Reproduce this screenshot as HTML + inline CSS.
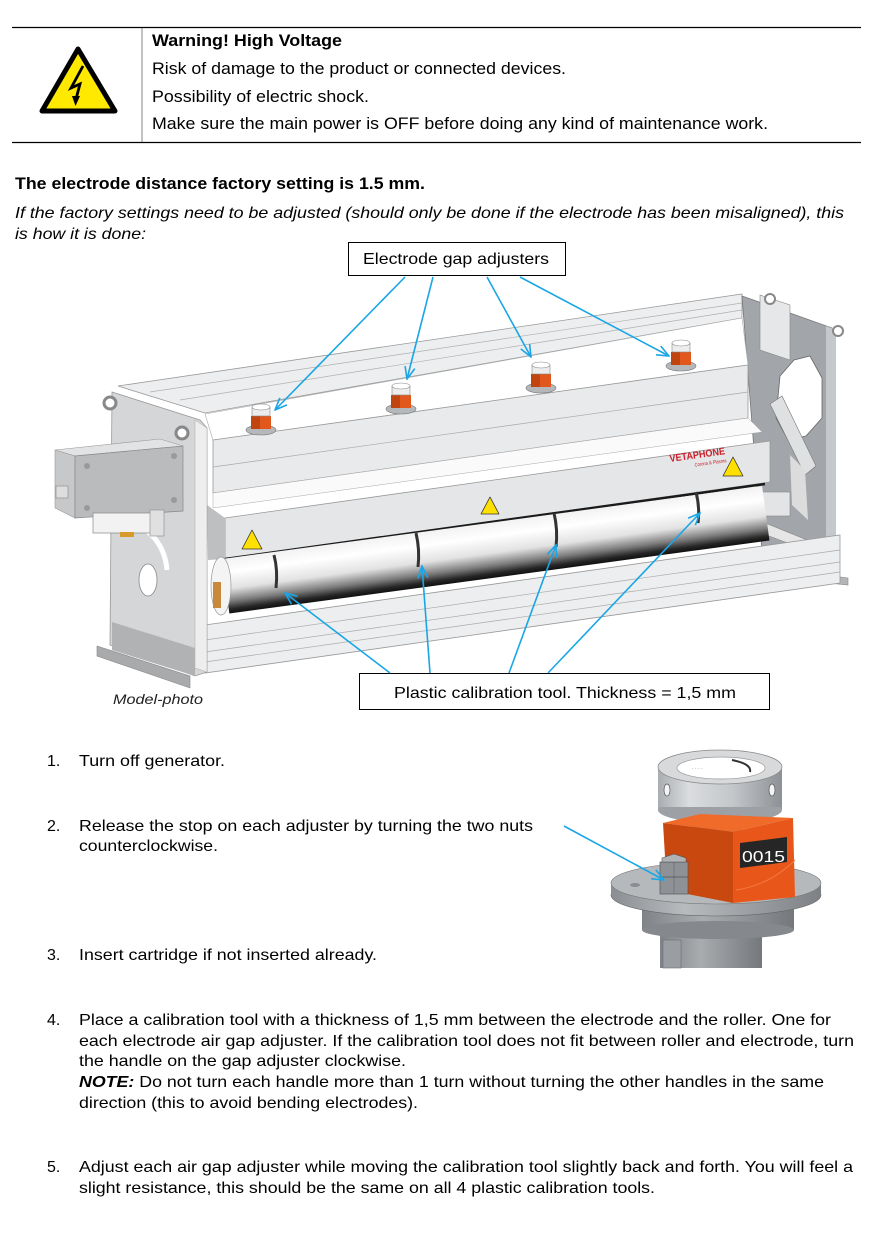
<!DOCTYPE html>
<html>
<head>
<meta charset="utf-8">
<style>
  html,body{margin:0;padding:0;background:#fff;}
  svg{display:block;}
  text{font-family:"Liberation Sans", Arial, sans-serif;fill:#000;}
</style>
</head>
<body>
<svg width="888" height="1252" viewBox="0 0 888 1252" xmlns="http://www.w3.org/2000/svg">
  <defs>
    <marker id="ah" viewBox="0 0 14 12" refX="13" refY="6" markerWidth="14" markerHeight="12" markerUnits="userSpaceOnUse" orient="auto">
      <path d="M1,1 L13,6 L1,11" fill="none" stroke="#1aa6e6" stroke-width="1.6"/>
    </marker>
    <linearGradient id="rollG" x1="0" y1="0" x2="0" y2="1">
      <stop offset="0" stop-color="#f2f2f2"/>
      <stop offset="0.25" stop-color="#ffffff"/>
      <stop offset="0.55" stop-color="#e2e2e2"/>
      <stop offset="0.78" stop-color="#7a7a7a"/>
      <stop offset="0.92" stop-color="#262626"/>
      <stop offset="1" stop-color="#101010"/>
    </linearGradient>
    <linearGradient id="capG" x1="0" y1="0" x2="1" y2="0">
      <stop offset="0" stop-color="#a9adb1"/>
      <stop offset="0.25" stop-color="#dadcde"/>
      <stop offset="0.6" stop-color="#c4c7ca"/>
      <stop offset="1" stop-color="#8d9195"/>
    </linearGradient>
    <linearGradient id="flG" x1="0" y1="0" x2="1" y2="0">
      <stop offset="0" stop-color="#8a8e92"/>
      <stop offset="0.35" stop-color="#b8bbbe"/>
      <stop offset="1" stop-color="#7d8185"/>
    </linearGradient>
    <linearGradient id="shG" x1="0" y1="0" x2="1" y2="0">
      <stop offset="0" stop-color="#7f8387"/>
      <stop offset="0.4" stop-color="#a9acaf"/>
      <stop offset="1" stop-color="#74787c"/>
    </linearGradient>
  </defs>

  <!-- ===== Warning table ===== -->
  <line x1="12" y1="27.5" x2="861" y2="27.5" stroke="#000" stroke-width="1.2"/>
  <line x1="12" y1="142.5" x2="861" y2="142.5" stroke="#000" stroke-width="1.2"/>
  <line x1="142" y1="28" x2="142" y2="142" stroke="#666" stroke-width="0.8"/>
  <polygon points="78,49 42,111 115,111" fill="#ffe900" stroke="#000" stroke-width="5" stroke-linejoin="round"/>
  <path d="M83,66 L71,88 L80,84 L76,99" fill="none" stroke="#000" stroke-width="2.8" stroke-linejoin="miter"/>
  <polygon points="72,96 75.5,106 80,96" fill="#000"/>

  <text x="152" y="46" font-size="16.5" font-weight="bold" textLength="190" lengthAdjust="spacingAndGlyphs">Warning! High Voltage</text>
  <text x="152" y="74" font-size="16.5" textLength="414" lengthAdjust="spacingAndGlyphs">Risk of damage to the product or connected devices.</text>
  <text x="152" y="102" font-size="16.5" textLength="217" lengthAdjust="spacingAndGlyphs">Possibility of electric shock.</text>
  <text x="152" y="129" font-size="16.5" textLength="616" lengthAdjust="spacingAndGlyphs">Make sure the main power is OFF before doing any kind of maintenance work.</text>

  <!-- ===== Heading ===== -->
  <text x="15" y="189" font-size="16.5" font-weight="bold" textLength="410" lengthAdjust="spacingAndGlyphs">The electrode distance factory setting is 1.5 mm.</text>
  <text x="15" y="218" font-size="16" font-style="italic" textLength="829" lengthAdjust="spacingAndGlyphs">If the factory settings need to be adjusted (should only be done if the electrode has been misaligned), this</text>
  <text x="15" y="239" font-size="16" font-style="italic" textLength="131" lengthAdjust="spacingAndGlyphs">is how it is done:</text>

  <!-- ===== Machine drawing ===== -->
  <!-- top back rail -->
  <polygon points="118,386 742,294 742,318 205,413" fill="#eceeef" stroke="#9a9a9a" stroke-width="0.8"/>
  <line x1="150" y1="392" x2="742" y2="303" stroke="#b0b0b0" stroke-width="0.7"/>
  <line x1="180" y1="400" x2="742" y2="310" stroke="#b0b0b0" stroke-width="0.7"/>

  <!-- right end plate -->
  <polygon points="742,296 832,328 836,578 762,552" fill="#a2a6aa" stroke="#777" stroke-width="0.8"/>
  <polygon points="826,326 836,330 836,578 826,575" fill="#c6c9cc"/>
  <polygon points="780,376 794,360 810,356 822,378 822,418 806,436 788,440 776,418" fill="#fff" stroke="#666" stroke-width="0.8"/>
  <polygon points="770,404 782,396 816,466 805,475" fill="#dfe0e2" stroke="#777" stroke-width="0.6"/>
  <polygon points="760,295 790,305 790,360 760,350" fill="#e6e7e8" stroke="#888" stroke-width="0.6"/>
  <polygon points="790,455 805,470 808,520 792,505" fill="#dcdcdc"/>
  <rect x="762" y="492" width="28" height="24" fill="#e3e4e5" stroke="#888" stroke-width="0.6"/>
  <polygon points="758,520 812,542 812,552 758,532" fill="#e6e6e6" stroke="#888" stroke-width="0.6"/>
  <polygon points="818,574 848,578 848,585 818,582" fill="#b4b6b8" stroke="#888" stroke-width="0.6"/>
  <circle cx="770" cy="299" r="5" fill="#fff" stroke="#888" stroke-width="2"/>
  <circle cx="838" cy="331" r="5" fill="#fff" stroke="#888" stroke-width="2"/>

  <!-- housing top face -->
  <polygon points="205,414 742,318 748,365 213,440" fill="#ffffff" stroke="#aaa" stroke-width="0.6"/>
  <!-- housing front upper -->
  <polygon points="213,440 748,365 748,418 213,493" fill="#e8eaeb" stroke="#999" stroke-width="0.8"/>
  <line x1="213" y1="467" x2="748" y2="392" stroke="#aaa" stroke-width="0.7"/>
  <polygon points="213,493 748,418 762,432 213,508" fill="#fafafa" stroke="#aaa" stroke-width="0.5"/>
  <!-- lower box -->
  <polygon points="225,518 770,441 770,482 225,559" fill="#e4e6e7" stroke="#999" stroke-width="0.8"/>
  <polygon points="207,505 225,518 225,559 208,560" fill="#bdbfc1"/>
  <line x1="225" y1="559" x2="765" y2="484" stroke="#1a1a1a" stroke-width="2.5"/>

  <!-- roller -->
  <g transform="translate(222,559) rotate(-7.7)">
    <rect x="0" y="0" width="545" height="55" fill="url(#rollG)"/>
  </g>
  <ellipse cx="221" cy="586" rx="10" ry="29" fill="#f4f4f4" stroke="#999" stroke-width="0.7"/>
  <rect x="213" y="582" width="8" height="26" fill="#c88a3a"/>
  <!-- calibration tools -->
  <path d="M274,555 Q278,570 276,588" fill="none" stroke="#333" stroke-width="3"/>
  <path d="M416,533 Q420,550 418,567" fill="none" stroke="#333" stroke-width="3"/>
  <path d="M554,513 Q558,530 556,547" fill="none" stroke="#333" stroke-width="3"/>
  <path d="M696,492 Q700,508 698,523" fill="none" stroke="#333" stroke-width="3"/>

  <!-- bottom rail -->
  <polygon points="205,625 840,535 840,583 205,673" fill="#eceeef" stroke="#999" stroke-width="0.8"/>
  <line x1="205" y1="640" x2="840" y2="550" stroke="#aaa" stroke-width="0.7"/>
  <line x1="205" y1="652" x2="840" y2="562" stroke="#aaa" stroke-width="0.7"/>
  <line x1="205" y1="662" x2="840" y2="572" stroke="#aaa" stroke-width="0.7"/>

  <!-- left end plate -->
  <polygon points="112,392 200,420 207,428 207,672 195,676 110,645" fill="#d4d6d8" stroke="#999" stroke-width="0.8"/>
  <polygon points="195,420 207,428 207,672 195,668" fill="#eeeeee" stroke="#aaa" stroke-width="0.5"/>
  <polygon points="112,622 195,648 195,676 112,650" fill="#b0b2b4"/>
  <polygon points="97,646 190,676 190,688 97,656" fill="#a8aaac" stroke="#888" stroke-width="0.6"/>
  <circle cx="110" cy="403" r="6" fill="#fff" stroke="#888" stroke-width="3"/>
  <circle cx="182" cy="433" r="6" fill="#fff" stroke="#888" stroke-width="3"/>
  <ellipse cx="148" cy="580" rx="9" ry="16" fill="#fff" stroke="#888" stroke-width="0.8"/>
  <path d="M146,530 Q165,545 167,570" fill="none" stroke="#fff" stroke-width="5"/>

  <!-- electronics box -->
  <polygon points="55,450 160,439 183,446 75,456" fill="#e2e3e4" stroke="#999" stroke-width="0.6"/>
  <polygon points="55,450 75,456 75,518 55,508" fill="#c6c8ca" stroke="#999" stroke-width="0.6"/>
  <polygon points="75,456 183,446 183,511 75,518" fill="#b9bbbd" stroke="#888" stroke-width="0.7"/>
  <circle cx="87" cy="466" r="3" fill="#999"/>
  <circle cx="174" cy="456" r="3" fill="#999"/>
  <circle cx="87" cy="508" r="3" fill="#999"/>
  <circle cx="174" cy="500" r="3" fill="#999"/>
  <rect x="56" y="486" width="12" height="12" fill="#ddd" stroke="#888" stroke-width="0.6"/>
  <rect x="93" y="513" width="68" height="20" fill="#f2f2f2" stroke="#888" stroke-width="0.7"/>
  <rect x="150" y="510" width="14" height="26" fill="#e0e0e0" stroke="#888" stroke-width="0.6"/>
  <rect x="120" y="532" width="14" height="5" fill="#d89a2a"/>

  <!-- adjusters -->
  <g>
    <ellipse cx="261" cy="430" rx="15" ry="5" fill="#b5b8bb" stroke="#777" stroke-width="0.6"/>
    <rect x="251" y="416" width="20" height="13" fill="#e2571b"/>
    <rect x="251" y="416" width="9" height="13" fill="#c04510"/>
    <rect x="252" y="407" width="18" height="9" fill="#ececec" stroke="#888" stroke-width="0.6"/>
    <ellipse cx="261" cy="407" rx="9" ry="3" fill="#fff" stroke="#888" stroke-width="0.6"/>
  </g>
  <g>
    <ellipse cx="401" cy="409" rx="15" ry="5" fill="#b5b8bb" stroke="#777" stroke-width="0.6"/>
    <rect x="391" y="395" width="20" height="13" fill="#e2571b"/>
    <rect x="391" y="395" width="9" height="13" fill="#c04510"/>
    <rect x="392" y="386" width="18" height="9" fill="#ececec" stroke="#888" stroke-width="0.6"/>
    <ellipse cx="401" cy="386" rx="9" ry="3" fill="#fff" stroke="#888" stroke-width="0.6"/>
  </g>
  <g>
    <ellipse cx="541" cy="388" rx="15" ry="5" fill="#b5b8bb" stroke="#777" stroke-width="0.6"/>
    <rect x="531" y="374" width="20" height="13" fill="#e2571b"/>
    <rect x="531" y="374" width="9" height="13" fill="#c04510"/>
    <rect x="532" y="365" width="18" height="9" fill="#ececec" stroke="#888" stroke-width="0.6"/>
    <ellipse cx="541" cy="365" rx="9" ry="3" fill="#fff" stroke="#888" stroke-width="0.6"/>
  </g>
  <g>
    <ellipse cx="681" cy="366" rx="15" ry="5" fill="#b5b8bb" stroke="#777" stroke-width="0.6"/>
    <rect x="671" y="352" width="20" height="13" fill="#e2571b"/>
    <rect x="671" y="352" width="9" height="13" fill="#c04510"/>
    <rect x="672" y="343" width="18" height="9" fill="#ececec" stroke="#888" stroke-width="0.6"/>
    <ellipse cx="681" cy="343" rx="9" ry="3" fill="#fff" stroke="#888" stroke-width="0.6"/>
  </g>

  <!-- warning labels on machine -->
  <polygon points="252,530 242,549 262,549" fill="#ffe000" stroke="#333" stroke-width="0.8" stroke-linejoin="round"/>
  <polygon points="490,497 481,514 499,514" fill="#ffe000" stroke="#333" stroke-width="0.8" stroke-linejoin="round"/>
  <polygon points="733,457 723,476 743,476" fill="#ffe000" stroke="#333" stroke-width="0.8" stroke-linejoin="round"/>

  <!-- logo -->
  <g transform="translate(670,462) rotate(-8)">
    <text x="0" y="0" font-size="10" font-weight="bold" style="fill:#c8202a" textLength="56" lengthAdjust="spacingAndGlyphs">VETAPHONE</text>
    <text x="24" y="8" font-size="5" style="fill:#c8202a" textLength="32" lengthAdjust="spacingAndGlyphs">Corona &amp; Plasma</text>
  </g>

  <!-- labels boxes -->
  <rect x="348.5" y="242.5" width="217" height="33" fill="#fff" stroke="#000" stroke-width="1"/>
  <text x="363" y="264" font-size="16" textLength="186" lengthAdjust="spacingAndGlyphs">Electrode gap adjusters</text>

  <rect x="359.5" y="673.5" width="410" height="36" fill="#fff" stroke="#000" stroke-width="1"/>
  <text x="394" y="698" font-size="16" textLength="342" lengthAdjust="spacingAndGlyphs">Plastic calibration tool. Thickness = 1,5 mm</text>

  <text x="113" y="704" font-size="14" font-style="italic" style="fill:#222" textLength="90" lengthAdjust="spacingAndGlyphs">Model-photo</text>

  <!-- arrows -->
  <g stroke="#1aa6e6" stroke-width="1.6" fill="none" marker-end="url(#ah)">
    <line x1="405" y1="277" x2="275" y2="410"/>
    <line x1="433" y1="277" x2="407" y2="379"/>
    <line x1="487" y1="277" x2="531" y2="357"/>
    <line x1="520" y1="277" x2="669" y2="356"/>
    <line x1="390" y1="673" x2="285" y2="593"/>
    <line x1="430" y1="673" x2="422" y2="566"/>
    <line x1="509" y1="673" x2="556" y2="545"/>
    <line x1="548" y1="673" x2="700" y2="513"/>
  </g>

  <!-- ===== Adjuster photo ===== -->
  <rect x="660" y="928" width="102" height="40" fill="url(#shG)"/>
  <rect x="663" y="940" width="18" height="28" fill="#9a9ea2" stroke="#6a6e72" stroke-width="0.6"/>
  <rect x="642" y="898" width="152" height="32" fill="url(#shG)"/>
  <ellipse cx="718" cy="930" rx="76" ry="9" fill="#85898d"/>
  <ellipse cx="716" cy="895" rx="105" ry="21" fill="url(#flG)" stroke="#666" stroke-width="0.6"/>
  <rect x="611" y="883" width="210" height="12" fill="url(#flG)"/>
  <ellipse cx="716" cy="883" rx="105" ry="21" fill="#b6b9bc" stroke="#777" stroke-width="0.6"/>
  <ellipse cx="635" cy="885" rx="5" ry="2" fill="#8a8e92"/>
  <ellipse cx="790" cy="893" rx="5" ry="2" fill="#8a8e92"/>
  <rect x="692" y="805" width="50" height="28" fill="#7a7e82"/>
  <rect x="658" y="767" width="124" height="43" fill="url(#capG)"/>
  <ellipse cx="720" cy="810" rx="62" ry="13" fill="#9da1a5"/>
  <rect x="658" y="767" width="124" height="40" fill="url(#capG)"/>
  <ellipse cx="720" cy="767" rx="62" ry="17" fill="#d7d9db" stroke="#888" stroke-width="0.7"/>
  <ellipse cx="721" cy="768" rx="44" ry="11" fill="#fff" stroke="#999" stroke-width="0.7"/>
  <path d="M732,760 Q752,764 750,772" fill="none" stroke="#333" stroke-width="2"/>
  <text x="692" y="770" font-size="5" style="fill:#555">· · · ·</text>
  <ellipse cx="667" cy="790" rx="3" ry="6" fill="#f4f4f4" stroke="#555" stroke-width="0.7"/>
  <ellipse cx="772" cy="790" rx="3" ry="6" fill="#f4f4f4" stroke="#555" stroke-width="0.7"/>
  <polygon points="663,823 700,814 793,818 733,832" fill="#f06a2a"/>
  <polygon points="663,823 733,832 733,903 667,890" fill="#c8480f"/>
  <polygon points="733,832 793,818 795,897 733,903" fill="#e8561a"/>
  <path d="M736,890 Q770,885 795,860" fill="none" stroke="#f27a40" stroke-width="1"/>
  <polygon points="740,843 787,837 787,862 740,868" fill="#262626"/>
  <text x="742" y="862" font-size="16" style="fill:#fff" textLength="43" lengthAdjust="spacingAndGlyphs">0015</text>
  <rect x="660" y="862" width="28" height="32" fill="#8e9296" stroke="#555" stroke-width="0.7"/>
  <line x1="674" y1="862" x2="674" y2="894" stroke="#666" stroke-width="0.6"/>
  <line x1="660" y1="877" x2="688" y2="877" stroke="#555" stroke-width="0.8"/>
  <polygon points="662,858 674,854 686,858 686,862 662,862" fill="#b0b3b6" stroke="#555" stroke-width="0.6"/>
  <line x1="564" y1="826" x2="664" y2="880" stroke="#1aa6e6" stroke-width="1.6" marker-end="url(#ah)"/>

  <!-- ===== Numbered list ===== -->
  <g font-size="16">
    <text x="47" y="766">1.</text>
    <text x="79" y="766" textLength="146" lengthAdjust="spacingAndGlyphs">Turn off generator.</text>

    <text x="47" y="831">2.</text>
    <text x="79" y="831" textLength="454" lengthAdjust="spacingAndGlyphs">Release the stop on each adjuster by turning the two nuts</text>
    <text x="79" y="851" textLength="139" lengthAdjust="spacingAndGlyphs">counterclockwise.</text>

    <text x="47" y="960">3.</text>
    <text x="79" y="960" textLength="298" lengthAdjust="spacingAndGlyphs">Insert cartridge if not inserted already.</text>

    <text x="47" y="1025">4.</text>
    <text x="79" y="1025" textLength="752" lengthAdjust="spacingAndGlyphs">Place a calibration tool with a thickness of 1,5 mm between the electrode and the roller. One for</text>
    <text x="79" y="1046" textLength="775" lengthAdjust="spacingAndGlyphs">each electrode air gap adjuster. If the calibration tool does not fit between roller and electrode, turn</text>
    <text x="79" y="1066" textLength="327" lengthAdjust="spacingAndGlyphs">the handle on the gap adjuster clockwise.</text>
    <text x="79" y="1087" textLength="745" lengthAdjust="spacingAndGlyphs"><tspan font-weight="bold" font-style="italic">NOTE:</tspan> Do not turn each handle more than 1 turn without turning the other handles in the same</text>
    <text x="79" y="1108" textLength="339" lengthAdjust="spacingAndGlyphs">direction (this to avoid bending electrodes).</text>

    <text x="47" y="1172">5.</text>
    <text x="79" y="1172" textLength="774" lengthAdjust="spacingAndGlyphs">Adjust each air gap adjuster while moving the calibration tool slightly back and forth. You will feel a</text>
    <text x="79" y="1193" textLength="576" lengthAdjust="spacingAndGlyphs">slight resistance, this should be the same on all 4 plastic calibration tools.</text>
  </g>
</svg>
</body>
</html>
